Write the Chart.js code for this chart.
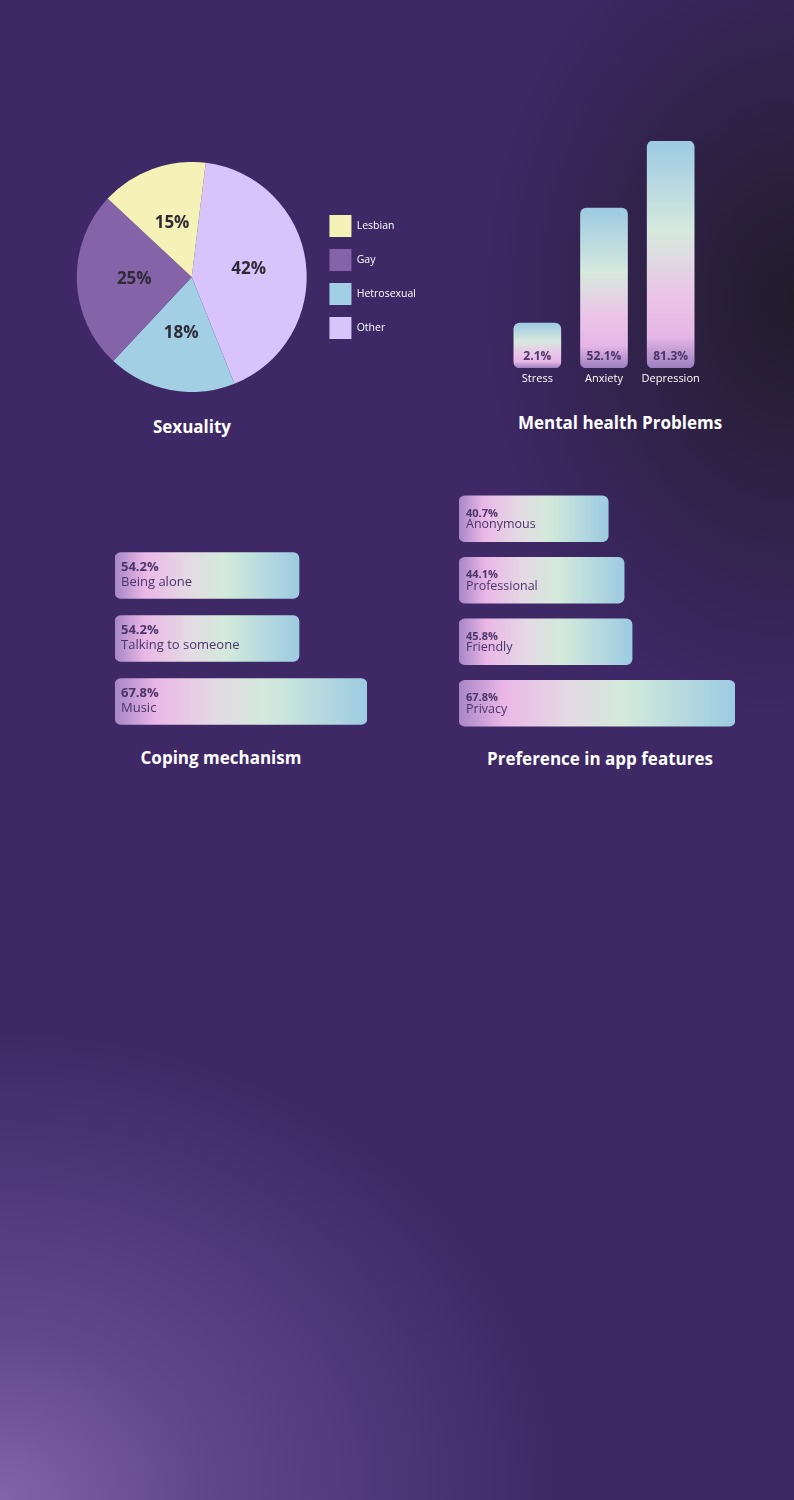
<!DOCTYPE html>
<html>
<head>
<meta charset="utf-8">
<script src="https://cdn.jsdelivr.net/npm/chart.js@4"></script>
<style>
  html, body { margin: 0; padding: 0; }
  body {
    width: 794px; height: 1500px; position: relative; overflow: hidden;
    background:
      radial-gradient(ellipse 320px 420px at 100% 20%, rgba(32,27,40,0.97) 0%, rgba(34,28,44,0.6) 40%, rgba(62,40,102,0) 100%),
      radial-gradient(ellipse 560px 470px at 0% 100%, rgba(130,100,170,1) 0%, rgba(108,82,152,0.75) 35%, rgba(62,40,102,0) 100%),
      #3e2866;
  }
  .box { position: absolute; }
  .title {
    position: absolute; color: #fff; font-family: "Open Sans", sans-serif; font-weight: 700;
    font-size: 17px; text-align: center; width: 300px; transform: translateX(-50%);
  }
</style>
</head>
<body>
<div class="box" style="left:66px; top:162px; width:360px; height:230px;"><canvas id="pie"></canvas></div>
<div class="box" style="left:504px; top:141px; width:200px; height:250px;"><canvas id="mental"></canvas></div>
<div class="box" style="left:115px; top:544px; width:252px; height:189px;"><canvas id="coping"></canvas></div>
<div class="box" style="left:459px; top:488px; width:276px; height:246px;"><canvas id="pref"></canvas></div>

<div class="title" style="left:192px; top:415px;">Sexuality</div>
<div class="title" style="left:620px; top:411px;">Mental health Problems</div>
<div class="title" style="left:221px; top:746px;">Coping mechanism</div>
<div class="title" style="left:600px; top:747px;">Preference in app features</div>

<script>
// Sexuality (drawn order: Other, Hetrosexual, Gay, Lesbian; legend reversed)
var sexLabels = ['Other', 'Hetrosexual', 'Gay', 'Lesbian']
var sexValues = [42, 18, 25, 15]
var sexColors = ['#d9c3fb', '#a3cfe4', '#8463a8', '#f6f1b6']

// Mental health problems
var mentalLabels = ['Stress', 'Anxiety', 'Depression']
var mentalValues = [2.1, 52.1, 81.3]

// Coping mechanism
var copingLabels = ['Being alone', 'Talking to someone', 'Music']
var copingValues = [54.2, 54.2, 67.8]

// Preference in app features
var prefLabels = ['Anonymous', 'Professional', 'Friendly', 'Privacy']
var prefValues = [40.7, 44.1, 45.8, 67.8]

var textDark = '#4a3468'
var fontFam = '"Open Sans", sans-serif'

Chart.defaults.animation = false
Chart.defaults.plugins.tooltip.enabled = false
Chart.defaults.maintainAspectRatio = false
Chart.defaults.responsive = true

// per-bar gradient, follows the bar from base to value
function barGradient(context, horizontal) {
    var chart = context.chart
    if (!chart.chartArea || context.type !== 'data') return '#d8e6de'
    var c = chart.ctx
    var base = context.dataset.base
    var g
    if (horizontal) {
        var xs = chart.scales.x
        var x0 = xs.getPixelForValue(base), x1 = xs.getPixelForValue(context.raw)
        g = c.createLinearGradient(x0, 0, x1, 0)
        g.addColorStop(0, '#a786c7')
        g.addColorStop(0.16, '#eab7e7')
        g.addColorStop(0.4, '#e4dae4')
        g.addColorStop(0.6, '#d3eadb')
        g.addColorStop(1, '#9dcbe2')
    } else {
        var ys = chart.scales.y
        var y0 = ys.getPixelForValue(base), y1 = ys.getPixelForValue(context.raw)
        g = c.createLinearGradient(0, y0, 0, y1)
        g.addColorStop(0, '#9d80c0')
        g.addColorStop(0.14, '#e6b6e6')
        g.addColorStop(0.32, '#ebc4e8')
        g.addColorStop(0.6, '#d6e9dd')
        g.addColorStop(1, '#9dcae3')
    }
    return g
}

// percentage text on pie slices
var pieLabels = {
    id: 'pieLabels',
    afterDatasetsDraw(chart) {
        var c = chart.ctx
        var meta = chart.getDatasetMeta(0)
        c.save()
        c.font = 'bold 17px ' + fontFam
        c.fillStyle = '#2e2a36'
        c.textAlign = 'center'
        c.textBaseline = 'middle'
        meta.data.forEach(function (arc, i) {
            var p = arc.tooltipPosition()
            c.fillText(chart.data.datasets[0].data[i] + '%', p.x, p.y)
        })
        c.restore()
    }
}

// value text at the bottom of vertical bars
var vBarLabels = {
    id: 'vBarLabels',
    afterDatasetsDraw(chart) {
        var c = chart.ctx
        var meta = chart.getDatasetMeta(0)
        c.save()
        c.font = 'bold 12px ' + fontFam
        c.fillStyle = textDark
        c.textAlign = 'center'
        c.textBaseline = 'middle'
        meta.data.forEach(function (bar, i) {
            c.fillText(chart.data.datasets[0].data[i] + '%', bar.x, bar.base - 11)
        })
        c.restore()
    }
}

// value + category inside horizontal bars
function hBarLabels(pctSize, nameSize, dx, pctDy, nameDy) {
    return {
        id: 'hBarLabels',
        afterDatasetsDraw(chart) {
            var c = chart.ctx
            var meta = chart.getDatasetMeta(0)
            c.save()
            c.fillStyle = textDark
            c.textAlign = 'left'
            c.textBaseline = 'middle'
            meta.data.forEach(function (bar, i) {
                var top = bar.y - bar.height / 2
                c.font = 'bold ' + pctSize + 'px ' + fontFam
                c.fillText(chart.data.datasets[0].data[i] + '%', bar.base + dx, top + pctDy)
                c.font = nameSize + 'px ' + fontFam
                c.fillText(chart.data.labels[i], bar.base + dx, top + nameDy)
            })
            c.restore()
        }
    }
}

new Chart(document.getElementById('pie'), {
    type: 'pie',
    data: {
        labels: sexLabels,
        datasets: [{ data: sexValues, backgroundColor: sexColors, borderWidth: 0, hoverOffset: 0 }]
    },
    options: {
        rotation: 7,
        layout: { padding: 0 },
        plugins: {
            legend: {
                position: 'right',
                reverse: true,
                labels: {
                    color: '#ffffff',
                    font: { family: fontFam, size: 10.5 },
                    boxWidth: 22, boxHeight: 22, padding: 12
                }
            }
        }
    },
    plugins: [pieLabels]
})

new Chart(document.getElementById('mental'), {
    type: 'bar',
    data: {
        labels: mentalLabels,
        datasets: [{
            data: mentalValues,
            base: -17.4,
            barThickness: 47,
            borderRadius: 6,
            borderSkipped: false,
            backgroundColor: function (ctx) { return barGradient(ctx, false) }
        }]
    },
    options: {
        layout: { padding: 0 },
        plugins: { legend: { display: false } },
        scales: {
            y: { display: false, min: -17.4, max: 81.3 },
            x: {
                grid: { display: false, drawTicks: false },
                border: { display: false },
                ticks: { color: '#ffffff', font: { family: fontFam, size: 11 }, padding: 4, maxRotation: 0, autoSkip: false },
                afterFit: function (s) { s.height = 23 }
            }
        }
    },
    plugins: [vBarLabels]
})

new Chart(document.getElementById('coping'), {
    type: 'bar',
    data: {
        labels: copingLabels,
        datasets: [{
            data: copingValues,
            base: 17.4,
            barThickness: 46,
            borderRadius: 6,
            borderSkipped: false,
            backgroundColor: function (ctx) { return barGradient(ctx, true) }
        }]
    },
    options: {
        indexAxis: 'y',
        layout: { padding: 0 },
        plugins: { legend: { display: false } },
        scales: {
            x: { display: false, min: 17.4, max: 67.8 },
            y: { display: false }
        }
    },
    plugins: [hBarLabels(13, 13, 6, 15, 30)]
})

new Chart(document.getElementById('pref'), {
    type: 'bar',
    data: {
        labels: prefLabels,
        datasets: [{
            data: prefValues,
            base: 8.8,
            barThickness: 46,
            borderRadius: 6,
            borderSkipped: false,
            backgroundColor: function (ctx) { return barGradient(ctx, true) }
        }]
    },
    options: {
        indexAxis: 'y',
        layout: { padding: 0 },
        plugins: { legend: { display: false } },
        scales: {
            x: { display: false, min: 8.8, max: 67.8 },
            y: { display: false }
        }
    },
    plugins: [hBarLabels(11, 12.5, 7, 18, 29)]
})
</script>
</body>
</html>
